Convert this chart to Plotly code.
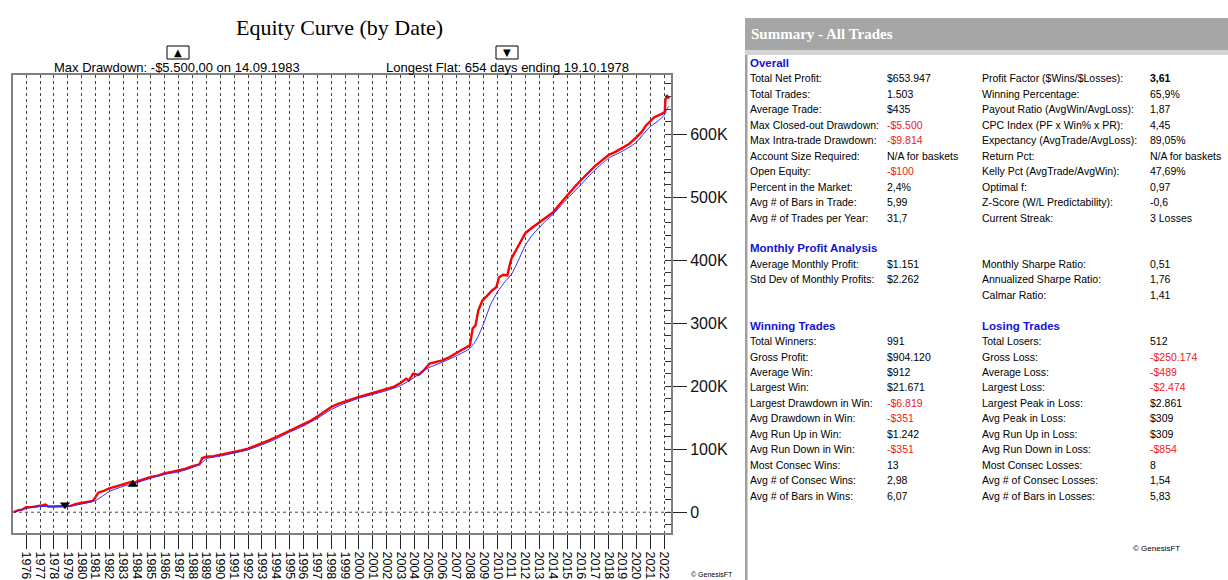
import plotly.graph_objects as go

# ---------------- data ----------------
red_dates = [1975.10, 1975.4, 1975.7, 1976.0, 1976.4, 1976.8, 1977.2, 1977.4, 1977.6, 1978.0,
             1978.5, 1978.8, 1979.2, 1979.6, 1980.0, 1980.4, 1980.8, 1981.0, 1981.2, 1981.6,
             1982.0, 1982.5, 1983.0, 1983.4, 1983.7, 1983.8, 1984.0, 1984.5, 1985.0, 1985.5,
             1986.0, 1986.5, 1987.0, 1987.5, 1988.0, 1988.5, 1988.7, 1989.0, 1989.5, 1990.0,
             1990.5, 1991.0, 1991.5, 1992.0, 1992.5, 1993.0, 1993.5, 1994.0, 1994.5, 1995.0,
             1995.5, 1996.0, 1996.5, 1997.0, 1997.5, 1998.0, 1998.5, 1999.0, 1999.5, 2000.0,
             2000.5, 2001.0, 2001.5, 2002.0, 2002.5, 2003.0, 2003.4, 2003.6, 2003.9, 2004.3,
             2004.7, 2005.1, 2005.5, 2006.0, 2006.5, 2007.0, 2007.5, 2008.0, 2008.2, 2008.4,
             2008.6, 2008.9, 2009.3, 2009.6, 2009.9, 2010.1, 2010.4, 2010.7, 2010.9, 2011.0,
             2011.3, 2011.6, 2012.0, 2012.5, 2013.0, 2013.5, 2014.0, 2014.4, 2014.7, 2015.0,
             2015.5, 2016.0, 2016.5, 2017.0, 2017.5, 2018.0, 2018.5, 2019.0, 2019.5, 2020.0,
             2020.4, 2020.7, 2021.0, 2021.3, 2021.6, 2021.9, 2022.05, 2022.1, 2022.2, 2022.3,
             2022.4]
red_equity = [0, 3000, 4000, 8000, 8000, 9000, 11000, 12000, 9000, 9000,
              9000, 10000, 10000, 13000, 15000, 17000, 18000, 24000, 31000, 34000,
              38000, 41000, 45000, 47000, 49000, 46000, 49000, 53000, 56000, 58000,
              62000, 64000, 66000, 69000, 73000, 76000, 86000, 88000, 89000, 91000,
              93000, 96000, 98000, 101000, 105000, 110000, 114000, 119000, 124000, 130000,
              134000, 140000, 145000, 152000, 160000, 167000, 172000, 176000, 180000, 183000,
              186000, 189000, 192000, 195000, 199000, 205000, 212000, 209000, 220000, 218000,
              226000, 236000, 238000, 241000, 246000, 252000, 258000, 265000, 292000, 296000,
              320000, 336000, 345000, 352000, 357000, 373000, 377000, 376000, 395000, 403000,
              415000, 428000, 443000, 452000, 460000, 468000, 476000, 487000, 495000, 503000,
              515000, 527000, 538000, 549000, 558000, 567000, 572000, 578000, 585000, 595000,
              604000, 614000, 620000, 627000, 630000, 633000, 636000, 655000, 662000, 658000,
              659000]

blue_dates = [1975.10, 1976.0, 1977.0, 1978.0, 1979.0, 1980.0, 1980.8, 1981.2, 1981.6, 1982.0,
              1983.0, 1984.0, 1985.0, 1986.0, 1987.0, 1988.0, 1988.7, 1989.0, 1990.0, 1991.0,
              1992.0, 1993.0, 1994.0, 1995.0, 1996.0, 1997.0, 1998.0, 1999.0, 2000.0, 2001.0,
              2002.0, 2003.0, 2004.0, 2005.0, 2006.0, 2007.0, 2008.0, 2008.5, 2009.0, 2009.5,
              2010.0, 2010.5, 2011.0, 2011.5, 2012.0, 2012.5, 2013.0, 2013.5, 2014.0, 2014.7,
              2015.0, 2016.0, 2017.0, 2018.0, 2019.0, 2020.0, 2020.5, 2021.0, 2021.5, 2022.0,
              2022.2, 2022.4]
blue_equity = [0, 6000, 9000, 9000, 9000, 13000, 17000, 21000, 27000, 33000,
               41000, 47000, 54000, 60000, 64000, 71000, 79000, 85000, 89000, 94000,
               99000, 107000, 116000, 127000, 137000, 149000, 163000, 173000, 181000, 187000,
               193000, 201000, 214000, 229000, 238000, 248000, 260000, 275000, 300000, 330000,
               350000, 365000, 378000, 400000, 424000, 440000, 452000, 463000, 473000, 490000,
               497000, 520000, 543000, 562000, 573000, 587000, 600000, 612000, 620000, 630000,
               640000, 645000]

years = list(range(1976, 2023))
year_labels = [str(y) for y in years]
y_tick_values = [0, 100000, 200000, 300000, 400000, 500000, 600000]
y_tick_labels = ["0", "100K", "200K", "300K", "400K", "500K", "600K"]

drawdown_date = [1983.70]
drawdown_value = [44000]
flat_date = [1978.80]
flat_value = [12000]

title_text = "Equity Curve (by Date)"
drawdown_text = "Max Drawdown: -$5.500,00 on 14.09.1983"
flat_text = "Longest Flat: 654 days ending 19.10.1978"

# summary panel: (label, value, value colour)
overall_left = [
    ("Total Net Profit:", "$653.947", "k"),
    ("Total Trades:", "1.503", "k"),
    ("Average Trade:", "$435", "k"),
    ("Max Closed-out Drawdown:", "-$5.500", "r"),
    ("Max Intra-trade Drawdown:", "-$9.814", "r"),
    ("Account Size Required:", "N/A for baskets", "k"),
    ("Open Equity:", "-$100", "r"),
    ("Percent in the Market:", "2,4%", "k"),
    ("Avg # of Bars in Trade:", "5,99", "k"),
    ("Avg # of Trades per Year:", "31,7", "k"),
]
overall_right = [
    ("Profit Factor ($Wins/$Losses):", "3,61", "b"),
    ("Winning Percentage:", "65,9%", "k"),
    ("Payout Ratio (AvgWin/AvgLoss):", "1,87", "k"),
    ("CPC Index (PF x Win% x PR):", "4,45", "k"),
    ("Expectancy (AvgTrade/AvgLoss):", "89,05%", "k"),
    ("Return Pct:", "N/A for baskets", "k"),
    ("Kelly Pct (AvgTrade/AvgWin):", "47,69%", "k"),
    ("Optimal f:", "0,97", "k"),
    ("Z-Score (W/L Predictability):", "-0,6", "k"),
    ("Current Streak:", "3 Losses", "k"),
]
monthly_left = [
    ("Average Monthly Profit:", "$1.151", "k"),
    ("Std Dev of Monthly Profits:", "$2.262", "k"),
]
monthly_right = [
    ("Monthly Sharpe Ratio:", "0,51", "k"),
    ("Annualized Sharpe Ratio:", "1,76", "k"),
    ("Calmar Ratio:", "1,41", "k"),
]
winning = [
    ("Total Winners:", "991", "k"),
    ("Gross Profit:", "$904.120", "k"),
    ("Average Win:", "$912", "k"),
    ("Largest Win:", "$21.671", "k"),
    ("Largest Drawdown in Win:", "-$6.819", "r"),
    ("Avg Drawdown in Win:", "-$351", "r"),
    ("Avg Run Up in Win:", "$1.242", "k"),
    ("Avg Run Down in Win:", "-$351", "r"),
    ("Most Consec Wins:", "13", "k"),
    ("Avg # of Consec Wins:", "2,98", "k"),
    ("Avg # of Bars in Wins:", "6,07", "k"),
]
losing = [
    ("Total Losers:", "512", "k"),
    ("Gross Loss:", "-$250.174", "r"),
    ("Average Loss:", "-$489", "r"),
    ("Largest Loss:", "-$2.474", "r"),
    ("Largest Peak in Loss:", "$2.861", "k"),
    ("Avg Peak in Loss:", "$309", "k"),
    ("Avg Run Up in Loss:", "$309", "k"),
    ("Avg Run Down in Loss:", "-$854", "r"),
    ("Most Consec Losses:", "8", "k"),
    ("Avg # of Consec Losses:", "1,54", "k"),
    ("Avg # of Bars in Losses:", "5,83", "k"),
]

# ---------------- layout geometry ----------------
W, H = 1228, 580
ML, MR, MT, MB = 13, 557, 75, 47
PW = W - ML - MR
PH = H - MT - MB


def px(x):
    return (x - ML) / PW


def py(y):
    return (H - MB - y) / PH


fig = go.Figure()

fig.add_trace(go.Scatter(x=red_dates, y=red_equity, mode="lines",
                         line=dict(color="#ff0000", width=2.4), hoverinfo="skip"))
fig.add_trace(go.Scatter(x=blue_dates, y=blue_equity, mode="lines",
                         line=dict(color="#2b2bff", width=1, shape="spline", smoothing=0.6),
                         hoverinfo="skip"))
fig.add_trace(go.Scatter(x=drawdown_date, y=drawdown_value, mode="markers",
                         marker=dict(symbol="triangle-up", size=9, color="black"), hoverinfo="skip"))
fig.add_trace(go.Scatter(x=flat_date, y=flat_value, mode="markers",
                         marker=dict(symbol="triangle-down", size=9, color="black"), hoverinfo="skip"))

annotations = []
shapes = []

# zero line (dotted)
shapes.append(dict(type="line", xref="paper", yref="y", x0=0, x1=1, y0=0, y1=0,
                   line=dict(color="#444444", width=1, dash="dot"), layer="below"))

# title and subtitles
annotations.append(dict(text=title_text, x=px(339), y=py(28), xref="paper", yref="paper",
                        showarrow=False, xanchor="center", yanchor="middle",
                        font=dict(family="Liberation Serif", size=22, color="black")))
annotations.append(dict(text=drawdown_text, x=px(177), y=py(68), xref="paper", yref="paper",
                        showarrow=False, xanchor="center", yanchor="middle",
                        font=dict(family="Liberation Sans", size=13, color="black")))
annotations.append(dict(text=flat_text, x=px(507), y=py(68), xref="paper", yref="paper",
                        showarrow=False, xanchor="center", yanchor="middle",
                        font=dict(family="Liberation Sans", size=13, color="black")))
for cx, sym in ((178, "▲"), (507, "▼")):
    shapes.append(dict(type="rect", xref="paper", yref="paper",
                       x0=px(cx - 11), x1=px(cx + 11), y0=py(59), y1=py(46),
                       line=dict(color="black", width=1), fillcolor="white"))
    annotations.append(dict(text=sym, x=px(cx), y=py(52.5), xref="paper", yref="paper",
                            showarrow=False, xanchor="center", yanchor="middle",
                            font=dict(family="DejaVu Sans", size=10, color="black")))

annotations.append(dict(text="© GenesisFT", x=px(712), y=py(574), xref="paper", yref="paper",
                        showarrow=False, xanchor="center", yanchor="middle",
                        font=dict(family="Liberation Sans", size=7, color="black")))

# summary panel
shapes.append(dict(type="rect", xref="paper", yref="paper", x0=px(745), x1=px(1228),
                   y0=py(50), y1=py(18), line=dict(width=0), fillcolor="#a6a6a6"))
shapes.append(dict(type="rect", xref="paper", yref="paper", x0=px(745), x1=px(1228),
                   y0=py(55), y1=py(50), line=dict(width=0), fillcolor="#d4d4d4"))
shapes.append(dict(type="rect", xref="paper", yref="paper", x0=px(745), x1=px(747.5),
                   y0=py(580), y1=py(55), line=dict(width=0), fillcolor="#a0a0a0"))
annotations.append(dict(text="<b>Summary - All Trades</b>", x=px(749), y=py(34),
                        xref="paper", yref="paper", showarrow=False, xanchor="left",
                        yanchor="middle",
                        font=dict(family="Liberation Serif", size=15, color="white")))

ROW0 = 63
ROWH = 15.45
COLS = (748, 885, 980, 1148)
colour_map = {"k": "black", "r": "#f01818", "b": "black"}


def row_y(i):
    return ROW0 + ROWH * i


def heading(text, col, i):
    annotations.append(dict(text="<b>" + text + "</b>", x=px(COLS[col]), y=py(row_y(i)),
                            xref="paper", yref="paper", showarrow=False, xanchor="left",
                            yanchor="middle",
                            font=dict(family="Liberation Sans", size=11.5, color="#1414d2")))


def rows(items, col, start):
    for k, (lab, val, c) in enumerate(items):
        yy = py(row_y(start + k))
        annotations.append(dict(text=lab, x=px(COLS[col]), y=yy, xref="paper", yref="paper",
                                showarrow=False, xanchor="left", yanchor="middle",
                                font=dict(family="Liberation Sans", size=10.5, color="black")))
        vtxt = "<b>" + val + "</b>" if c == "b" else val
        annotations.append(dict(text=vtxt, x=px(COLS[col + 1]), y=yy, xref="paper", yref="paper",
                                showarrow=False, xanchor="left", yanchor="middle",
                                font=dict(family="Liberation Sans", size=10.5,
                                          color=colour_map[c])))


heading("Overall", 0, 0)
rows(overall_left, 0, 1)
rows(overall_right, 2, 1)
heading("Monthly Profit Analysis", 0, 12)
rows(monthly_left, 0, 13)
rows(monthly_right, 2, 13)
heading("Winning Trades", 0, 17)
heading("Losing Trades", 2, 17)
rows(winning, 0, 18)
rows(losing, 2, 18)
annotations.append(dict(text="© GenesisFT", x=px(1156), y=py(548), xref="paper", yref="paper",
                        showarrow=False, xanchor="center", yanchor="middle",
                        font=dict(family="Liberation Sans", size=8, color="black")))

fig.update_layout(
    template="none",
    width=W, height=H,
    margin=dict(l=ML, r=MR, t=MT, b=MB, pad=0, autoexpand=False),
    paper_bgcolor="white", plot_bgcolor="white",
    showlegend=False, hovermode=False,
    annotations=annotations, shapes=shapes,
    xaxis=dict(range=[1975.05, 2022.5], tickmode="array", tickvals=years, ticktext=year_labels,
               tickangle=90, ticks="outside", ticklen=14, tickcolor="#222222", tickwidth=1,
               showgrid=True, gridcolor="#444444", griddash="dot", gridwidth=1,
               showline=True, linecolor="#808080", linewidth=2, mirror=True, zeroline=False,
               automargin=False,
               tickfont=dict(family="Liberation Sans", size=12.5, color="black")),
    yaxis=dict(range=[-33000, 694000], side="right", tickmode="array",
               tickvals=y_tick_values, ticktext=y_tick_labels,
               ticks="outside", ticklen=14, tickcolor="#222222", tickwidth=1,
               minor=dict(dtick=20000, tick0=0, ticks="inside", ticklen=6,
                          tickcolor="#333333", tickwidth=1, showgrid=False),
               showgrid=False, zeroline=False, automargin=False,
               showline=True, linecolor="#808080", linewidth=2, mirror=True,
               tickfont=dict(family="Liberation Sans", size=16, color="#111111")),
)

fig.write_html("out.html", config={"displayModeBar": False, "staticPlot": True},
               post_script="document.body.style.margin='0';")
